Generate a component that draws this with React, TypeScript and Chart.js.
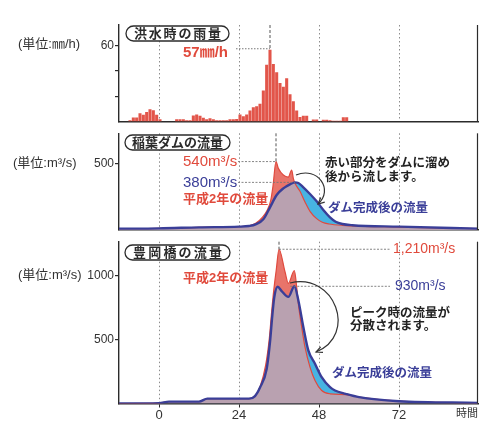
import React, { useEffect, useRef } from 'react';
import { Chart, registerables } from 'chart.js';

Chart.register(...registerables);

// ---------------- data ----------------
const X_MIN = -12;
const X_MAX = 95.7;
const X_TICKS = [0, 24, 48, 72];
const X_TICK_LABELS = ['0', '24', '48', '72'];
const X_UNIT = '時間';

// hourly rainfall (mm/h), first bar starts at hour -9
const RAIN_START_HOUR = -9;
const RAIN_MM = [
  1, 3.2, 3.2, 6.6, 5.3, 7.6, 9.7, 8.9, 5.3, 1.8,
  0, 0, 0, 0, 1.8, 1.8, 1.8, 1, 1, 4.7,
  5.5, 4.5, 3, 1.8, 2.6, 1.8, 1, 1, 1, 1,
  1.8, 1.8, 2, 5.5, 4.2, 5.5, 8.7, 11.3, 12, 14,
  24.5, 45, 56.8, 45.5, 39, 30.5, 27.6, 34.2, 21.5, 16,
  8.7, 3.5, 4.5, 4.5, 0, 1.5, 1.5, 0, 1.3, 1.3,
  1, 0.5, 0.5, 0.5, 3.4, 3.4,
];

// 稲葉ダム
const INABA_1990_HOURS = [-12, 0, 12, 24, 27, 29, 31, 32.5, 33.5, 34.2, 35.1, 35.8, 37.3, 38.8, 39.8, 40.3, 40.8, 42.3, 43.8, 45.3, 47.3, 49, 51, 55, 72, 95.7];
const INABA_1990_FLOW = [10, 12, 20, 25, 32, 50, 95, 150, 220, 330, 513, 462, 412, 397, 450, 387, 350, 290, 210, 140, 85, 58, 45, 35, 22, 10];
const INABA_DAM_HOURS = [-12, 0, 12, 24, 27, 29, 31.3, 33.3, 35.3, 37.3, 39.3, 40.8, 41.8, 43.3, 45.3, 47.3, 49.3, 51.3, 53, 55, 58, 72, 95.7];
const INABA_DAM_FLOW = [10, 12, 20, 25, 30, 42, 80, 170, 262, 312, 342, 357, 352, 320, 270, 215, 150, 95, 62, 45, 36, 25, 10];

// 豊岡橋
const TOYOOKA_1990_HOURS = [-12, 0, 3, 12, 14.5, 22, 27, 28.8, 30.3, 32, 33.1, 33.8, 34.4, 35.2, 36, 37.8, 38.8, 40.6, 41.3, 41.8, 42.8, 43.8, 45.3, 46.8, 48.8, 51.3, 56, 60, 72, 95.7];
const TOYOOKA_1990_FLOW = [0, 3, 15, 15, 38, 38, 38, 60, 130, 300, 510, 720, 880, 1050, 1207, 1031, 940, 1039, 913, 782, 599, 442, 285, 180, 102, 76, 70, 50, 18, 5];
const TOYOOKA_DAM_HOURS = [-12, 0, 3, 12, 14.5, 22, 27, 28.8, 30.3, 32.3, 33.3, 34, 34.6, 35.6, 36.8, 38.8, 40.6, 41.8, 43.3, 44.8, 46.8, 48.8, 51.3, 52.8, 56, 60, 72, 95.7];
const TOYOOKA_DAM_FLOW = [0, 3, 15, 15, 38, 38, 38, 58, 125, 270, 480, 690, 834, 913, 880, 834, 917, 808, 599, 416, 311, 206, 128, 102, 76, 50, 18, 5];

// ---------------- style ----------------
const W = 479;
const H = 430;
const FONT = "'Liberation Sans', 'Noto Sans CJK JP', sans-serif";
const INK = '#2b2b2b';
const GRID = '#8c8c8c';
const GUIDE = '#777777';
const BAR_RED = '#e2554a';
const RED_AREA = '#e8746a';
const RED_LINE = '#e04a3e';
const CYAN = '#47b4e2';
const MAUVE = '#b9a1b0';
const NAVY = '#3a3e98';
const RED_TEXT = '#e04a3c';

// ---------------- drawing helpers ----------------
function txt(ctx: CanvasRenderingContext2D, s: string, x: number, y: number, size: number, color: string, bold = false, align: CanvasTextAlign = 'left') {
  ctx.save();
  ctx.font = `${bold ? 'bold ' : ''}${size}px ${FONT}`;
  ctx.fillStyle = color;
  ctx.textAlign = align;
  ctx.textBaseline = 'middle';
  ctx.fillText(s, x, y);
  ctx.restore();
}

function titleBox(ctx: CanvasRenderingContext2D, s: string, x0: number, y0: number, x1: number, y1: number) {
  ctx.save();
  ctx.beginPath();
  (ctx as any).roundRect(x0, y0, x1 - x0, y1 - y0, (y1 - y0) / 2);
  ctx.fillStyle = '#fff';
  ctx.fill();
  ctx.lineWidth = 1.3;
  ctx.strokeStyle = INK;
  ctx.stroke();
  ctx.font = `bold 13px ${FONT}`;
  ctx.fillStyle = INK;
  ctx.textAlign = 'center';
  ctx.textBaseline = 'middle';
  const chars = Array.from(s);
  const pad = 7;
  const step = (x1 - x0 - 2 * pad) / chars.length;
  chars.forEach((c, i) => ctx.fillText(c, x0 + pad + step * (i + 0.5), (y0 + y1) / 2 + 0.5));
  ctx.restore();
}

function line(ctx: CanvasRenderingContext2D, x0: number, y0: number, x1: number, y1: number, color: string, dash: number[], width = 1) {
  ctx.save();
  ctx.strokeStyle = color;
  ctx.lineWidth = width;
  ctx.setLineDash(dash);
  ctx.beginPath();
  ctx.moveTo(x0, y0);
  ctx.lineTo(x1, y1);
  ctx.stroke();
  ctx.restore();
}

function curvedArrow(ctx: CanvasRenderingContext2D, p0: number[], c1: number[], c2: number[], p1: number[]) {
  ctx.save();
  ctx.strokeStyle = '#333';
  ctx.lineWidth = 1.2;
  ctx.beginPath();
  ctx.moveTo(p0[0], p0[1]);
  ctx.bezierCurveTo(c1[0], c1[1], c2[0], c2[1], p1[0], p1[1]);
  ctx.stroke();
  const a = Math.atan2(p1[1] - c2[1], p1[0] - c2[0]);
  const L = 7;
  ctx.beginPath();
  ctx.moveTo(p1[0] - L * Math.cos(a - 0.45), p1[1] - L * Math.sin(a - 0.45));
  ctx.lineTo(p1[0], p1[1]);
  ctx.lineTo(p1[0] - L * Math.cos(a + 0.45), p1[1] - L * Math.sin(a + 0.45));
  ctx.stroke();
  ctx.restore();
}

function regionPath(ctx: CanvasRenderingContext2D, el: any, base: number) {
  ctx.beginPath();
  const pts = el.points;
  if (typeof el.path === 'function') {
    el.path(ctx);
  } else {
    pts.forEach((p: any, i: number) => (i ? ctx.lineTo(p.x, p.y) : ctx.moveTo(p.x, p.y)));
  }
  ctx.lineTo(pts[pts.length - 1].x, base);
  ctx.lineTo(pts[0].x, base);
  ctx.closePath();
}

// ---------------- options ----------------
type Panel = { top: number; bottom: number; yMax: number; yTicks: number[]; yLabels: number[]; showX: boolean };

function makeOptions(p: Panel): any {
  const xh = p.showX ? 26 : 0;
  return {
    responsive: false,
    maintainAspectRatio: false,
    animation: false,
    devicePixelRatio: 1,
    events: [],
    layout: { padding: { top: p.top, bottom: H - p.bottom - xh, left: 0, right: 1 } },
    plugins: { legend: { display: false }, tooltip: { enabled: false } },
    scales: {
      x: {
        type: 'linear',
        min: X_MIN,
        max: X_MAX,
        offset: false,
        afterBuildTicks: (s: any) => { s.ticks = X_TICKS.map((v) => ({ value: v })); },
        afterFit: (s: any) => { s.height = xh; },
        grid: { offset: false, display: true, drawOnChartArea: true, drawTicks: p.showX, tickLength: 4, color: GRID, lineWidth: 1, tickColor: INK, tickWidth: 1 },
        border: { display: true, color: INK, width: 1.4, dash: [1.5, 2.5] },
        ticks: {
          display: p.showX, autoSkip: false, maxRotation: 0, minRotation: 0, padding: 0,
          color: '#333', font: { family: FONT, size: 13 },
          callback: (v: number) => { const i = X_TICKS.indexOf(v); return i >= 0 ? X_TICK_LABELS[i] : ''; },
        },
      },
      y: {
        type: 'linear',
        min: 0,
        max: p.yMax,
        afterBuildTicks: (s: any) => { s.ticks = p.yTicks.map((v) => ({ value: v })); },
        afterFit: (s: any) => { s.width = 119; },
        grid: { drawOnChartArea: false, drawTicks: true, tickLength: 4, color: INK, lineWidth: 1.2 },
        border: { display: true, color: INK, width: 1.4 },
        ticks: {
          padding: 1, color: '#333', font: { family: FONT, size: 12 },
          callback: (v: number) => (p.yLabels.includes(v) ? String(v) : ''),
        },
      },
    },
  };
}

function pts(hours: number[], vals: number[]) {
  return hours.map((h, i) => ({ x: h, y: vals[i] }));
}

function flowDatasets(h1: number[], v1: number[], h2: number[], v2: number[]) {
  const common = { pointRadius: 0, cubicInterpolationMode: 'monotone' as const };
  return [
    { ...common, data: pts(h1, v1), fill: 'origin', backgroundColor: RED_AREA, borderWidth: 0, borderColor: 'transparent', order: 4 },
    { ...common, data: pts(h2, v2), fill: 'origin', backgroundColor: CYAN, borderWidth: 0, borderColor: 'transparent', order: 3 },
    { ...common, data: pts(h1, v1), fill: false, borderColor: RED_LINE, borderWidth: 1.2, order: 2 },
    { ...common, data: pts(h2, v2), fill: false, borderColor: NAVY, borderWidth: 2.4, order: 1 },
  ];
}

const overlapPlugin = {
  id: 'overlap',
  beforeDatasetDraw(chart: any, args: any) {
    if (args.index !== 2) return;
    const ctx = chart.ctx as CanvasRenderingContext2D;
    const a = chart.chartArea;
    const base = chart.scales.y.getPixelForValue(0);
    const redEl = chart.getDatasetMeta(0).dataset;
    const damEl = chart.getDatasetMeta(1).dataset;
    ctx.save();
    ctx.beginPath();
    ctx.rect(a.left, a.top, a.right - a.left, a.bottom - a.top);
    ctx.clip();
    regionPath(ctx, damEl, base);
    ctx.clip();
    regionPath(ctx, redEl, base);
    ctx.fillStyle = MAUVE;
    ctx.fill();
    ctx.restore();
  },
};

function rightBorder(chart: any) {
  const a = chart.chartArea;
  line(chart.ctx, a.right - 0.5, a.top, a.right - 0.5, a.bottom, INK, [], 1.2);
}

function peakIndex(vals: number[]) {
  let k = 0;
  vals.forEach((v, i) => { if (v > vals[k]) k = i; });
  return k;
}

export default function App() {
  const r1 = useRef<HTMLCanvasElement>(null);
  const r2 = useRef<HTMLCanvasElement>(null);
  const r3 = useRef<HTMLCanvasElement>(null);

  useEffect(() => {
    const charts: Chart[] = [];

    // ---- panel 1: rainfall ----
    const p1: Panel = { top: 25, bottom: 121.5, yMax: 76.4, yTicks: [20, 40, 60], yLabels: [60], showX: false };
    charts.push(new Chart(r1.current!, {
      type: 'bar',
      data: {
        datasets: [{
          data: RAIN_MM.map((v, i) => ({ x: RAIN_START_HOUR + i + 0.3, y: v })),
          backgroundColor: BAR_RED,
          borderWidth: 0,
          barPercentage: 0.92,
          categoryPercentage: 1,
        } as any],
      },
      options: makeOptions(p1),
      plugins: [{
        id: 'ann1',
        afterDraw(chart: any) {
          const ctx = chart.ctx;
          const xs = chart.scales.x, ys = chart.scales.y;
          const k = peakIndex(RAIN_MM);
          const px = xs.getPixelForValue(RAIN_START_HOUR + k + 0.3);
          const py = ys.getPixelForValue(RAIN_MM[k]);
          line(ctx, px, chart.chartArea.top, px, py, '#555', [3, 2], 1);
          line(ctx, 236, py - 1, px, py - 1, GUIDE, [1.5, 1.5], 1);
          rightBorder(chart);
          titleBox(ctx, '洪水時の雨量', 126, 26, 229, 41);
          txt(ctx, '57㎜/h', 183, 53, 15, RED_TEXT, true);
          txt(ctx, '(単位:㎜/h)', 18, 44, 13, '#333');
        },
      }],
    }));

    // ---- panel 2: 稲葉ダム ----
    const p2: Panel = { top: 133.3, bottom: 230, yMax: 725, yTicks: [500], yLabels: [500], showX: false };
    charts.push(new Chart(r2.current!, {
      type: 'line',
      data: { datasets: flowDatasets(INABA_1990_HOURS, INABA_1990_FLOW, INABA_DAM_HOURS, INABA_DAM_FLOW) as any },
      options: makeOptions(p2),
      plugins: [overlapPlugin, {
        id: 'ann2',
        afterDraw(chart: any) {
          const ctx = chart.ctx;
          const xs = chart.scales.x, ys = chart.scales.y;
          const kr = peakIndex(INABA_1990_FLOW);
          const rx = xs.getPixelForValue(INABA_1990_HOURS[kr]);
          const ry = ys.getPixelForValue(INABA_1990_FLOW[kr]);
          const kd = peakIndex(INABA_DAM_FLOW);
          const dx = xs.getPixelForValue(INABA_DAM_HOURS[kd]);
          const dy = ys.getPixelForValue(INABA_DAM_FLOW[kd]);
          line(ctx, rx, chart.chartArea.top, rx, ry, '#555', [3, 2], 1);
          line(ctx, 238, ry, rx, ry, GUIDE, [2, 1.5], 0.9);
          line(ctx, 238, dy, dx, dy, GUIDE, [2, 1.5], 0.9);
          rightBorder(chart);
          titleBox(ctx, '稲葉ダムの流量', 125, 135, 230, 150);
          txt(ctx, '(単位:m³/s)', 13, 163.5, 13, '#333');
          txt(ctx, '540m³/s', 183, ry, 15, RED_TEXT, false);
          txt(ctx, '380m³/s', 183, dy, 15, NAVY, false);
          txt(ctx, '平成2年の流量', 183, 199.5, 13, RED_TEXT, true);
          txt(ctx, '赤い部分をダムに溜め', 325, 163.5, 12.5, '#222', true);
          txt(ctx, '後から流します。', 325, 177.5, 12.5, '#222', true);
          txt(ctx, 'ダム完成後の流量', 328, 208.5, 12.5, NAVY, true);
          curvedArrow(ctx, [296, 175], [318, 166], [334, 190], [318, 204]);
        },
      }],
    }));

    // ---- panel 3: 豊岡橋 ----
    const p3: Panel = { top: 241.7, bottom: 403.5, yMax: 1266, yTicks: [500, 1000], yLabels: [500, 1000], showX: true };
    charts.push(new Chart(r3.current!, {
      type: 'line',
      data: { datasets: flowDatasets(TOYOOKA_1990_HOURS, TOYOOKA_1990_FLOW, TOYOOKA_DAM_HOURS, TOYOOKA_DAM_FLOW) as any },
      options: makeOptions(p3),
      plugins: [overlapPlugin, {
        id: 'ann3',
        afterDraw(chart: any) {
          const ctx = chart.ctx;
          const xs = chart.scales.x, ys = chart.scales.y;
          const kr = peakIndex(TOYOOKA_1990_FLOW);
          const rx = xs.getPixelForValue(TOYOOKA_1990_HOURS[kr]);
          const ry = ys.getPixelForValue(TOYOOKA_1990_FLOW[kr]);
          const kd = peakIndex(TOYOOKA_DAM_FLOW);
          const dx = xs.getPixelForValue(TOYOOKA_DAM_HOURS[kd]);
          const dy = ys.getPixelForValue(TOYOOKA_DAM_FLOW[kd]);
          line(ctx, rx, chart.chartArea.top, rx, ry, '#555', [3, 2], 1);
          line(ctx, rx, ry, 390, ry, GUIDE, [2, 1.5], 0.9);
          line(ctx, dx - 4, dy, 390, dy, GUIDE, [2, 1.5], 0.9);
          rightBorder(chart);
          titleBox(ctx, '豊岡橋の流量', 125, 245, 230, 260);
          txt(ctx, '(単位:m³/s)', 18, 275.7, 13, '#333');
          txt(ctx, '1,210m³/s', 393, ry, 14, RED_TEXT, false);
          txt(ctx, '930m³/s', 395, dy, 14, NAVY, false);
          txt(ctx, '平成2年の流量', 183, 278.3, 13, RED_TEXT, true);
          txt(ctx, 'ピーク時の流量が', 350, 313.3, 12.5, '#222', true);
          txt(ctx, '分散されます。', 350, 326.7, 12.5, '#222', true);
          txt(ctx, 'ダム完成後の流量', 332, 374, 12.5, NAVY, true);
          txt(ctx, X_UNIT, 456, 414, 11, '#333');
          curvedArrow(ctx, [290, 283], [335, 272], [358, 335], [316, 352]);
        },
      }],
    }));

    return () => charts.forEach((c) => c.destroy());
  }, []);

  const cs: React.CSSProperties = { position: 'absolute', left: 0, top: 0, width: W, height: H };
  return (
    <div style={{ position: 'fixed', left: 0, top: 0, width: W, height: H, background: '#fff' }}>
      <canvas ref={r1} width={W} height={H} style={cs} />
      <canvas ref={r2} width={W} height={H} style={cs} />
      <canvas ref={r3} width={W} height={H} style={cs} />
    </div>
  );
}
